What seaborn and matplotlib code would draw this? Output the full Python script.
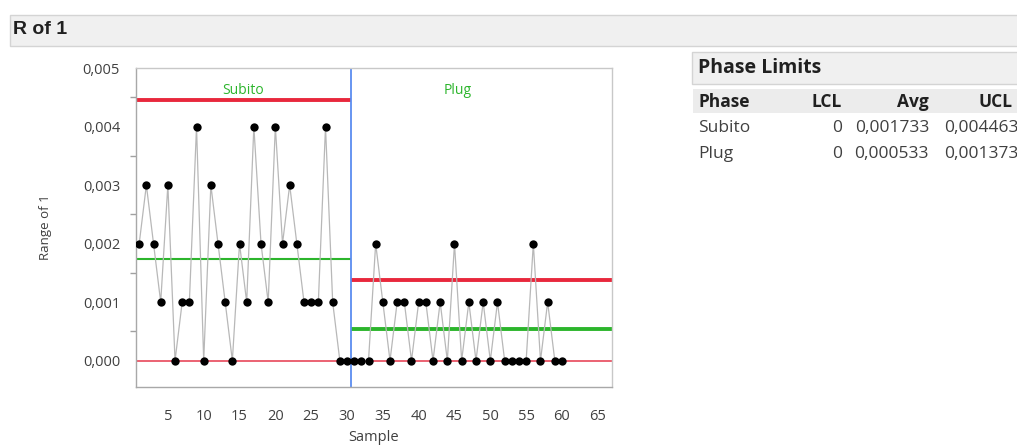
import matplotlib
matplotlib.use("Agg")
import matplotlib.pyplot as plt
import matplotlib.ticker as mticker
from matplotlib.patches import Rectangle
import seaborn as sns
import pandas as pd

# data
samples = list(range(1, 61))
subito = [0.002, 0.003, 0.002, 0.001, 0.003, 0.000, 0.001, 0.001, 0.004, 0.000,
          0.003, 0.002, 0.001, 0.000, 0.002, 0.001, 0.004, 0.002, 0.001, 0.004,
          0.002, 0.003, 0.002, 0.001, 0.001, 0.001, 0.004, 0.001, 0.000, 0.000]
plug = [0.000, 0.000, 0.000, 0.002, 0.001, 0.000, 0.001, 0.001, 0.000, 0.001,
        0.001, 0.000, 0.001, 0.000, 0.002, 0.000, 0.001, 0.000, 0.001, 0.000,
        0.001, 0.000, 0.000, 0.000, 0.000, 0.002, 0.000, 0.001, 0.000, 0.000]

phase_names = ["Subito", "Plug"]
phase_lcl = [0, 0]
phase_avg = [0.001733, 0.000533]
phase_ucl = [0.004463, 0.001373]
lcl_txt = ["0", "0"]
avg_txt = ["0,001733", "0,000533"]
ucl_txt = ["0,004463", "0,001373"]

df = pd.DataFrame({"Sample": samples, "Range": subito + plug,
                   "Phase": ["Subito"] * len(subito) + ["Plug"] * len(plug)})

sns.set_style("white")
plt.rcParams["font.family"] = ["Open Sans", "DejaVu Sans"]

fig = plt.figure(figsize=(10.17, 4.45), dpi=100)
ax = fig.add_axes([0.1337, 0.1303, 0.468, 0.7167])

xlo, xhi = 0.55, 66.97
split = 30.5

sns.lineplot(data=df, x="Sample", y="Range", ax=ax, color="#b8b8b8",
             linewidth=0.9, zorder=3)
sns.scatterplot(data=df, x="Sample", y="Range", ax=ax, color="black",
                s=36, edgecolor="black", linewidth=0, zorder=4)

starts = [xlo, split]
ends = [split, xhi]
for i in range(2):
    ax.hlines(phase_ucl[i], starts[i], ends[i], color="#e8283c", lw=2.8, zorder=2)
    ax.hlines(phase_avg[i], starts[i], ends[i], color="#2cb52c",
              lw=1.5 if i == 0 else 2.8, zorder=2)
ax.hlines(0, xlo, xhi, color="#e8485a", lw=1.2, zorder=2)
ax.axvline(split, color="#5a8cf0", lw=1.3, zorder=2)

ax.text(15.5, 0.00462, "Subito", color="#2cb52c", ha="center", va="center", fontsize=10)
ax.text(45.5, 0.00462, "Plug", color="#2cb52c", ha="center", va="center", fontsize=10)

ax.set_xlim(xlo, xhi)
ax.set_ylim(-0.00045, 0.005)
ax.xaxis.set_major_locator(mticker.MultipleLocator(5))
ax.yaxis.set_major_locator(mticker.MultipleLocator(0.001))
ax.yaxis.set_minor_locator(mticker.MultipleLocator(0.0005))
ax.yaxis.set_major_formatter(mticker.FuncFormatter(lambda v, p: f"{v:.3f}".replace(".", ",")))
ax.tick_params(axis="both", which="both", direction="out", color="#a0a0a0",
               labelcolor="#404040", labelsize=10.5)
ax.tick_params(axis="y", which="major", length=8, width=1)
ax.tick_params(axis="x", which="major", length=10, width=1, pad=6)
ax.tick_params(axis="y", which="minor", length=4, width=1, left=True)
for s in ax.spines.values():
    s.set_color("#c8c8c8")
    s.set_linewidth(1.0)
ax.spines["left"].set_color("#a8a8a8")
ax.spines["bottom"].set_color("#a8a8a8")
ax.set_xlabel("Sample", fontsize=10.5, color="#404040", labelpad=4)
ax.set_ylabel("Range of 1", fontsize=9.5, color="#404040", labelpad=22)

# header bar
fig.patches.append(Rectangle((10 / 1017, 1 - 46 / 445), 1010 / 1017, 31 / 445,
                             transform=fig.transFigure, facecolor="#f0f0f0",
                             edgecolor="#d4d4d4", lw=1))
fig.text(13 / 1017, 1 - 30 / 445, "R of 1", fontsize=14, fontweight="bold",
         color="#202020", va="center", ha="left", family=["Liberation Sans Narrow", "Liberation Sans"])

# phase limits table
fig.patches.append(Rectangle((692 / 1017, 1 - 84 / 445), 330 / 1017, 32 / 445,
                             transform=fig.transFigure, facecolor="#f0f0f0",
                             edgecolor="#d4d4d4", lw=1))
fig.text(698 / 1017, 1 - 68 / 445, "Phase Limits", fontsize=14, fontweight="bold",
         color="#202020", va="center", ha="left")
fig.patches.append(Rectangle((693 / 1017, 1 - 113 / 445), 330 / 1017, 24 / 445,
                             transform=fig.transFigure, facecolor="#ececec",
                             edgecolor="none"))
hy = 1 - 102 / 445
fs = 12.5
fig.text(698 / 1017, hy, "Phase", fontsize=fs, fontweight="bold", color="#202020", va="center")
fig.text(842 / 1017, hy, "LCL", fontsize=fs, fontweight="bold", color="#202020", va="center", ha="right")
fig.text(929 / 1017, hy, "Avg", fontsize=fs, fontweight="bold", color="#202020", va="center", ha="right")
fig.text(979 / 1017, hy, "UCL", fontsize=fs, fontweight="bold", color="#202020", va="center", ha="left")
row_y = [1 - 128 / 445, 1 - 154 / 445]
for i in range(2):
    fig.text(698 / 1017, row_y[i], phase_names[i], fontsize=fs, color="#404040", va="center")
    fig.text(842 / 1017, row_y[i], lcl_txt[i], fontsize=fs, color="#404040", va="center", ha="right")
    fig.text(929 / 1017, row_y[i], avg_txt[i], fontsize=fs, color="#404040", va="center", ha="right")
    fig.text(944 / 1017, row_y[i], ucl_txt[i], fontsize=fs, color="#404040", va="center", ha="left")

fig.savefig("out.png", dpi=100)
